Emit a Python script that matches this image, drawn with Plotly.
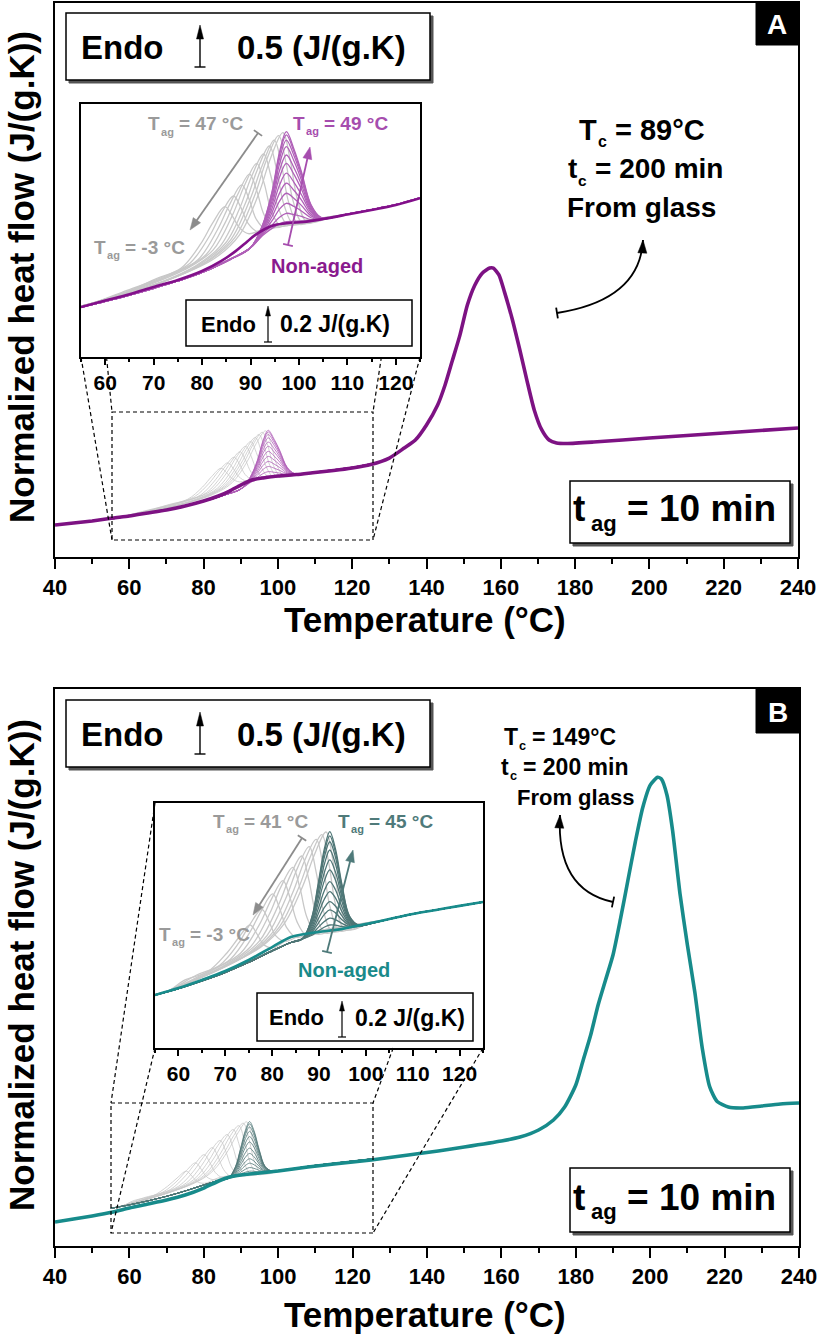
import math
import plotly.graph_objects as go

W, H = 818, 1339
FONT = "Arial, 'Liberation Sans', Helvetica, sans-serif"

# ================= PANEL A DATA =================
A_MAIN_T = [40, 45, 50, 55.6, 60, 65, 70, 75, 80, 84, 87, 90, 93, 96, 100, 105, 110, 115, 120, 125,
            130, 134, 137, 140, 143, 145, 147, 149, 151, 153, 155, 157, 158, 159.5, 161, 163, 165, 167,
            169, 171, 173, 175, 178, 185, 200, 220, 240]
A_MAIN_V = [0.372, 0.395, 0.419, 0.453, 0.477, 0.512, 0.547, 0.593, 0.651, 0.709, 0.767, 0.837, 0.895,
            0.919, 0.942, 0.959, 0.983, 1.006, 1.035, 1.076, 1.151, 1.267, 1.36, 1.535, 1.767, 2.0, 2.29,
            2.58, 2.93, 3.16, 3.30, 3.36, 3.36, 3.28, 3.08, 2.78, 2.43, 2.06, 1.71, 1.48, 1.36, 1.326,
            1.32, 1.337, 1.384, 1.442, 1.50]

A_NA_T = [55, 60, 65, 70, 75, 80, 84, 87, 89, 91, 93, 95, 98, 101, 105, 110, 115, 120, 125]
A_NA_V = [0.442, 0.48, 0.517, 0.56, 0.601, 0.654, 0.713, 0.772, 0.819, 0.866, 0.901, 0.924, 0.936,
          0.942, 0.96, 0.986, 1.013, 1.042, 1.082]

A_GRAY_PRE_T = [55, 58]
A_GRAY_PRE_V = [0.447, 0.47]
A_GRAY_POST_T = [110, 115, 120, 125]
A_GRAY_POST_V = [0.988, 1.015, 1.044, 1.084]
A_GRAY_T = [
    [62.7, 70.7, 75.7, 79.7, 82.2, 84.7, 86.2, 87.7, 89.7, 93.7],
    [64.5, 72.5, 77.5, 81.5, 84.0, 86.5, 88.0, 89.5, 91.5, 95.5],
    [66.2, 74.2, 79.2, 83.2, 85.7, 88.2, 89.7, 91.2, 93.2, 97.2],
    [67.8, 75.8, 80.8, 84.8, 87.3, 89.8, 91.3, 92.8, 94.8, 98.8],
    [69.3, 77.3, 82.3, 86.3, 88.8, 91.3, 92.8, 94.3, 96.3, 100.3],
    [70.7, 78.7, 83.7, 87.7, 90.2, 92.7, 94.2, 95.7, 97.7, 101.7],
    [71.9, 79.9, 84.9, 88.9, 91.4, 93.9, 95.4, 96.9, 98.9, 102.9],
    [72.9, 80.9, 85.9, 89.9, 92.4, 94.9, 96.4, 97.9, 99.9, 103.9],
    [73.8, 81.8, 86.8, 90.8, 93.3, 95.8, 97.3, 98.8, 100.8, 104.8],
    [74.7, 82.7, 87.7, 91.7, 94.2, 96.7, 98.2, 99.7, 101.7, 105.7],
]
A_GRAY_V = [
    [0.51, 0.61, 0.671, 0.813, 0.937, 1.032, 0.98, 0.909, 0.873, 0.913],
    [0.54, 0.625, 0.70, 0.858, 0.994, 1.095, 1.028, 0.934, 0.885, 0.922],
    [0.55, 0.64, 0.721, 0.898, 1.046, 1.16, 1.077, 0.958, 0.899, 0.93],
    [0.565, 0.66, 0.749, 0.94, 1.101, 1.224, 1.125, 0.985, 0.91, 0.937],
    [0.575, 0.675, 0.778, 0.984, 1.16, 1.287, 1.172, 1.008, 0.918, 0.942],
    [0.58, 0.685, 0.799, 1.018, 1.208, 1.342, 1.214, 1.029, 0.925, 0.948],
    [0.59, 0.70, 0.82, 1.049, 1.248, 1.389, 1.249, 1.045, 0.928, 0.952],
    [0.60, 0.71, 0.837, 1.075, 1.273, 1.424, 1.275, 1.056, 0.93, 0.955],
    [0.61, 0.722, 0.852, 1.093, 1.306, 1.45, 1.294, 1.065, 0.935, 0.958],
    [0.62, 0.73, 0.865, 1.108, 1.322, 1.467, 1.307, 1.072, 0.94, 0.96],
]

A_AGED_PRE_T = [55, 60, 65, 70, 75, 80, 86, 90]
A_AGED_PRE_V = [0.44, 0.475, 0.512, 0.552, 0.595, 0.645, 0.725, 0.79]
A_AGED_T = [92.5, 94.5, 96, 97.4, 99, 100.5, 102.5, 104.5]
A_AGED_POST_T = [107, 110, 115, 120, 125]
A_AGED_POST_V = [0.97, 0.988, 1.015, 1.044, 1.084]
A_AGED_V = [
    [0.925, 1.128, 1.354, 1.473, 1.369, 1.239, 1.043, 0.969],
    [0.923, 1.12, 1.339, 1.454, 1.354, 1.228, 1.039, 0.969],
    [0.919, 1.107, 1.315, 1.424, 1.33, 1.212, 1.034, 0.968],
    [0.915, 1.091, 1.284, 1.385, 1.299, 1.19, 1.027, 0.967],
    [0.909, 1.071, 1.245, 1.336, 1.26, 1.163, 1.018, 0.965],
    [0.903, 1.05, 1.206, 1.287, 1.221, 1.136, 1.009, 0.964],
    [0.896, 1.026, 1.159, 1.229, 1.174, 1.104, 0.999, 0.962],
    [0.889, 1.001, 1.112, 1.17, 1.127, 1.072, 0.988, 0.96],
    [0.882, 0.976, 1.065, 1.111, 1.08, 1.04, 0.978, 0.958],
    [0.875, 0.951, 1.018, 1.052, 1.033, 1.007, 0.967, 0.957],
    [0.868, 0.926, 0.97, 0.993, 0.985, 0.975, 0.956, 0.955],
    [0.862, 0.906, 0.931, 0.944, 0.946, 0.948, 0.948, 0.953],
]

# ================= PANEL B DATA =================
B_MAIN_T = [40, 45, 50, 55.6, 60, 65, 70, 75, 80, 84, 87, 90, 95, 100, 108, 115, 125, 135, 143, 150,
            160, 165, 170, 174, 177, 180, 182, 184, 186, 188, 190, 192, 194, 196, 198, 200, 202, 203,
            204.5, 206, 208, 210, 212, 214, 216, 218, 221, 225, 230, 235, 240]
B_MAIN_V = [0.279, 0.314, 0.349, 0.395, 0.442, 0.488, 0.535, 0.593, 0.674, 0.756, 0.802, 0.826, 0.849,
            0.872, 0.919, 0.953, 1.0, 1.058, 1.105, 1.151, 1.221, 1.267, 1.349, 1.465, 1.616, 1.872,
            2.163, 2.453, 2.802, 3.093, 3.384, 3.80, 4.25, 4.70, 5.10, 5.36, 5.45, 5.43, 5.244, 4.837,
            4.10, 3.50, 2.95, 2.30, 1.85, 1.68, 1.616, 1.605, 1.628, 1.651, 1.663]

B_NA_T = [55, 60, 65, 70, 75, 80, 84, 87, 90, 95, 100, 105, 110, 115, 120, 125]
B_NA_V = [0.438, 0.481, 0.531, 0.586, 0.654, 0.734, 0.796, 0.815, 0.827, 0.846, 0.876, 0.907, 0.938,
          0.963, 0.988, 1.012]

B_GRAY_PRE_T = [55, 58]
B_GRAY_PRE_V = [0.44, 0.465]
B_GRAY_POST_T = [105, 110, 115, 120, 125]
B_GRAY_POST_V = [0.907, 0.938, 0.963, 0.988, 1.012]
B_GRAY_T = [
    [61.3, 66.3, 70.3, 72.8, 75.3, 76.8, 78.3, 80.3, 84.3],
    [63.8, 68.8, 72.8, 75.3, 77.8, 79.3, 80.8, 82.8, 86.8],
    [66.1, 71.1, 75.1, 77.6, 80.1, 81.6, 83.1, 85.1, 89.1],
    [68.3, 73.3, 77.3, 79.8, 82.3, 83.8, 85.3, 87.3, 91.3],
    [70.4, 75.4, 79.4, 81.9, 84.4, 85.9, 87.4, 89.4, 93.4],
    [72.3, 77.3, 81.3, 83.8, 86.3, 87.8, 89.3, 91.3, 95.3],
    [73.9, 78.9, 82.9, 85.4, 87.9, 89.4, 90.9, 92.9, 96.9],
    [75.4, 80.4, 84.4, 86.9, 89.4, 90.9, 92.4, 94.4, 98.4],
    [76.6, 81.6, 85.6, 88.1, 90.6, 92.1, 93.6, 95.6, 99.6],
    [77.5, 82.5, 86.5, 89.0, 91.5, 93.0, 94.5, 96.5, 100.5],
]
B_GRAY_V = [
    [0.53, 0.583, 0.696, 0.79, 0.87, 0.813, 0.746, 0.73, 0.797],
    [0.56, 0.622, 0.756, 0.876, 0.967, 0.893, 0.803, 0.77, 0.815],
    [0.58, 0.659, 0.818, 0.953, 1.062, 0.972, 0.854, 0.795, 0.824],
    [0.607, 0.697, 0.874, 1.027, 1.144, 1.039, 0.891, 0.808, 0.832],
    [0.63, 0.736, 0.936, 1.107, 1.226, 1.102, 0.92, 0.815, 0.84],
    [0.655, 0.772, 0.99, 1.17, 1.296, 1.153, 0.943, 0.822, 0.847],
    [0.675, 0.805, 1.034, 1.221, 1.354, 1.195, 0.961, 0.828, 0.858],
    [0.70, 0.835, 1.07, 1.265, 1.399, 1.228, 0.977, 0.833, 0.866],
    [0.718, 0.86, 1.095, 1.288, 1.428, 1.25, 0.987, 0.839, 0.873],
    [0.732, 0.875, 1.108, 1.302, 1.444, 1.262, 0.993, 0.842, 0.879],
]

B_AGED_PRE_T = [55, 60, 65, 70, 75, 80, 84, 86.5]
B_AGED_PRE_V = [0.438, 0.478, 0.525, 0.578, 0.64, 0.71, 0.762, 0.785]
B_AGED_T = [88.5, 89.8, 91.2, 92.3, 93.5, 94.9, 96.5, 98.5]
B_AGED_POST_T = [101, 105, 110, 115, 120, 125]
B_AGED_POST_V = [0.879, 0.907, 0.938, 0.963, 0.988, 1.012]
B_AGED_V = [
    [0.922, 1.121, 1.347, 1.446, 1.341, 1.12, 0.925, 0.868],
    [0.917, 1.108, 1.325, 1.42, 1.32, 1.108, 0.922, 0.868],
    [0.91, 1.09, 1.295, 1.384, 1.29, 1.092, 0.918, 0.867],
    [0.90, 1.064, 1.251, 1.333, 1.248, 1.069, 0.912, 0.867],
    [0.887, 1.034, 1.199, 1.272, 1.198, 1.042, 0.904, 0.866],
    [0.875, 1.003, 1.147, 1.21, 1.148, 1.014, 0.897, 0.866],
    [0.861, 0.967, 1.086, 1.138, 1.088, 0.981, 0.888, 0.865],
    [0.848, 0.936, 1.033, 1.076, 1.038, 0.953, 0.881, 0.864],
    [0.836, 0.905, 0.98, 1.014, 0.987, 0.926, 0.873, 0.864],
    [0.826, 0.879, 0.937, 0.963, 0.945, 0.903, 0.867, 0.863],
    [0.815, 0.854, 0.893, 0.912, 0.903, 0.88, 0.861, 0.863],
    [0.807, 0.833, 0.858, 0.87, 0.869, 0.861, 0.856, 0.862],
]

MAIN_TICKS = [40, 60, 80, 100, 120, 140, 160, 180, 200, 220, 240]
INSET_TICKS = [60, 70, 80, 90, 100, 110, 120]

# ================= STYLE =================
A_MAIN_COLOR = "#7D1283"
A_AGED_COLOR = "#B060B8"
A_NA_COLOR = "#82108A"
GRAY = "#C8C8C8"
B_MAIN_COLOR = "#178B8B"
B_AGED_COLOR = "#4F7676"
B_NA_COLOR = "#188C8C"


def PX(x):
    return x / W


def PY(y):
    return 1 - y / H


fig = go.Figure()


def add(x, y, color, width, xa, ya, smooth=1.0):
    fig.add_trace(go.Scatter(x=x, y=y, mode="lines",
                             line=dict(color=color, width=width, shape="spline", smoothing=smooth),
                             xaxis=xa, yaxis=ya, hoverinfo="skip", showlegend=False))


def join(pre_t, pre_v, t, v, post_t, post_v):
    return list(pre_t) + list(t) + list(post_t), list(pre_v) + list(v) + list(post_v)


def panel_curves(xa, ya, gw, aw, with_na, gray_pre, gray_t, gray_v, gray_post,
                 aged_pre, aged_t, aged_v, aged_post, aged_color, na_t, na_v, na_color):
    for t, v in zip(gray_t, gray_v):
        x, y = join(gray_pre[0], gray_pre[1], t, v, gray_post[0], gray_post[1])
        add(x, y, GRAY, gw, xa, ya)
    for v in aged_v:
        x, y = join(aged_pre[0], aged_pre[1], aged_t, v, aged_post[0], aged_post[1])
        add(x, y, aged_color, aw, xa, ya)
    if with_na:
        add(na_t, na_v, na_color, 2.6, xa, ya)


# ---- panel A: main plot ----
panel_curves("x", "y", 0.8, 0.8, False, (A_GRAY_PRE_T, A_GRAY_PRE_V), A_GRAY_T, A_GRAY_V,
             (A_GRAY_POST_T, A_GRAY_POST_V), (A_AGED_PRE_T, A_AGED_PRE_V), A_AGED_T, A_AGED_V,
             (A_AGED_POST_T, A_AGED_POST_V), A_AGED_COLOR, A_NA_T, A_NA_V, A_NA_COLOR)
add(A_MAIN_T, A_MAIN_V, A_MAIN_COLOR, 3.6, "x", "y", 0.6)
# ---- panel B: main plot ----
panel_curves("x2", "y2", 0.8, 0.8, False, (B_GRAY_PRE_T, B_GRAY_PRE_V), B_GRAY_T, B_GRAY_V,
             (B_GRAY_POST_T, B_GRAY_POST_V), (B_AGED_PRE_T, B_AGED_PRE_V), B_AGED_T, B_AGED_V,
             (B_AGED_POST_T, B_AGED_POST_V), B_AGED_COLOR, B_NA_T, B_NA_V, B_NA_COLOR)
add(B_MAIN_T, B_MAIN_V, B_MAIN_COLOR, 3.6, "x2", "y2", 0.6)
# ---- insets ----
panel_curves("x3", "y3", 1.3, 1.3, True, (A_GRAY_PRE_T, A_GRAY_PRE_V), A_GRAY_T, A_GRAY_V,
             (A_GRAY_POST_T, A_GRAY_POST_V), (A_AGED_PRE_T, A_AGED_PRE_V), A_AGED_T, A_AGED_V,
             (A_AGED_POST_T, A_AGED_POST_V), A_AGED_COLOR, A_NA_T, A_NA_V, A_NA_COLOR)
panel_curves("x4", "y4", 1.3, 1.3, True, (B_GRAY_PRE_T, B_GRAY_PRE_V), B_GRAY_T, B_GRAY_V,
             (B_GRAY_POST_T, B_GRAY_POST_V), (B_AGED_PRE_T, B_AGED_PRE_V), B_AGED_T, B_AGED_V,
             (B_AGED_POST_T, B_AGED_POST_V), B_AGED_COLOR, B_NA_T, B_NA_V, B_NA_COLOR)


# ================= AXES =================
def main_x(x0, x1, anchor):
    return dict(domain=[PX(x0), PX(x1)], range=[40, 240], anchor=anchor, showline=True, mirror=True,
                linecolor="black", linewidth=2, ticks="outside", ticklen=10, tickwidth=2,
                tickcolor="black", tickmode="array", tickvals=MAIN_TICKS,
                ticktext=[str(t) for t in MAIN_TICKS],
                minor=dict(ticks="outside", ticklen=5, tickwidth=2, tickcolor="black", tick0=40, dtick=10),
                tickfont=dict(family=FONT, size=22, color="black", weight="bold"),
                showgrid=False, zeroline=False, fixedrange=True, automargin=False)


def plain_y(y0, y1, rng, anchor, lw):
    return dict(domain=[PY(y1), PY(y0)], range=rng, anchor=anchor, showline=True, mirror=True,
                linecolor="black", linewidth=lw, ticks="", showticklabels=False, showgrid=False,
                zeroline=False, fixedrange=True, automargin=False)


def inset_x(x0, x1, anchor):
    return dict(domain=[PX(x0), PX(x1)], range=[55, 125], anchor=anchor, showline=True, mirror=True,
                linecolor="black", linewidth=1.5, ticks="outside", ticklen=6, tickwidth=1.5,
                tickcolor="black", tickmode="array", tickvals=INSET_TICKS,
                ticktext=[str(t) for t in INSET_TICKS],
                minor=dict(ticks="outside", ticklen=3, tickwidth=1.5, tickcolor="black", tick0=55, dtick=5),
                tickfont=dict(family=FONT, size=21, color="black", weight="bold"),
                showgrid=False, zeroline=False, fixedrange=True, automargin=False)


fig.update_layout(
    template="none",
    width=W, height=H, margin=dict(l=0, r=0, t=0, b=0, pad=0, autoexpand=False),
    paper_bgcolor="white", plot_bgcolor="white", showlegend=False,
    xaxis=main_x(55, 798, "y"), yaxis=plain_y(3, 557, [0, 6.442], "x", 2),
    xaxis2=main_x(55, 799, "y2"), yaxis2=plain_y(689, 1246, [0, 6.477], "x2", 2),
    xaxis3=inset_x(81, 420, "y3"), yaxis3=plain_y(104, 357, [0.148, 1.636], "x3", 1.5),
    xaxis4=inset_x(155, 483, "y4"), yaxis4=plain_y(803, 1048, [0.111, 1.623], "x4", 1.5),
)

# ================= DECORATIONS =================
shapes = []
annotations = []

# Arial-Bold advance widths (per 1000 em) used to lay out subscripted labels
CW = {" ": 278, "=": 584, "°": 400, "C": 722, "T": 611, "t": 333, "a": 556, "g": 611, "c": 556,
      "m": 889, "i": 278, "n": 611, "-": 333, ".": 278}


def tw(s, size):
    return sum(CW.get(ch, 556) for ch in s) * size / 1000


def sline(x0, y0, x1, y1, color="black", width=1.5, dash=None):
    d = dict(type="line", xref="paper", yref="paper", x0=PX(x0), y0=PY(y0), x1=PX(x1), y1=PY(y1),
             line=dict(color=color, width=width))
    if dash:
        d["line"]["dash"] = dash
    shapes.append(d)


def srect(x0, y0, x1, y1, line_color="black", width=1.5, fill="white", dash=None):
    d = dict(type="rect", xref="paper", yref="paper", x0=PX(x0), y0=PY(y0), x1=PX(x1), y1=PY(y1),
             fillcolor=fill, line=dict(color=line_color, width=width))
    if dash:
        d["line"]["dash"] = dash
    shapes.append(d)


def spoly(pts, color):
    path = "M " + " L ".join(f"{PX(x)},{PY(y)}" for x, y in pts) + " Z"
    shapes.append(dict(type="path", xref="paper", yref="paper", path=path, fillcolor=color,
                       line=dict(color=color, width=0.5)))


def head(tipx, tipy, ux, uy, hl, hw, color):
    bx, by = tipx - ux * hl, tipy - uy * hl
    px_, py_ = -uy, ux
    spoly([(tipx, tipy), (bx + px_ * hw / 2, by + py_ * hw / 2), (bx - px_ * hw / 2, by - py_ * hw / 2)], color)


def arrow(x0, y0, x1, y1, color, width, hl=11, hw=8, tw_=10):
    dx, dy = x1 - x0, y1 - y0
    L = math.hypot(dx, dy)
    ux, uy = dx / L, dy / L
    bx, by = x1 - ux * (hl - 1), y1 - uy * (hl - 1)
    sline(x0, y0, bx, by, color, width)
    head(x1, y1, ux, uy, hl, hw, color)
    px_, py_ = -uy, ux
    sline(x0 + px_ * tw_ / 2, y0 + py_ * tw_ / 2, x0 - px_ * tw_ / 2, y0 - py_ * tw_ / 2, color, width)


def qarrow(p0, c, p2, color, width, hl=12, hw=9, tw_=11):
    path = f"M {PX(p0[0])},{PY(p0[1])} Q {PX(c[0])},{PY(c[1])} {PX(p2[0])},{PY(p2[1])}"
    shapes.append(dict(type="path", xref="paper", yref="paper", path=path,
                       line=dict(color=color, width=width)))
    dx, dy = p2[0] - c[0], p2[1] - c[1]
    L = math.hypot(dx, dy)
    head(p2[0], p2[1], dx / L, dy / L, hl, hw, color)
    dx, dy = c[0] - p0[0], c[1] - p0[1]
    L = math.hypot(dx, dy)
    ux, uy = dx / L, dy / L
    px_, py_ = -uy, ux
    sline(p0[0] + px_ * tw_ / 2, p0[1] + py_ * tw_ / 2, p0[0] - px_ * tw_ / 2, p0[1] - py_ * tw_ / 2, color, width)


def txt(x, y, s, size, color="black", xanchor="center", angle=0):
    annotations.append(dict(x=PX(x), y=PY(y), xref="paper", yref="paper", text=f"<b>{s}</b>",
                            showarrow=False, font=dict(family=FONT, size=size, color=color),
                            xanchor=xanchor, yanchor="middle", textangle=angle, borderpad=0))


def subtxt(x_left, yc, main, sub, rest, size, color="black", ratio=0.58, drop=10, gap1=1.0):
    ss = size * ratio
    txt(x_left, yc, main, size, color, "left")
    xs = x_left + tw(main, size) + gap1
    txt(xs, yc + drop, sub, ss, color, "left")
    xr = xs + tw(sub, ss) + tw(" ", size)
    txt(xr, yc, rest, size, color, "left")


DASH = "4px,3px"

# --- zoom boxes and connecting lines ---
srect(112, 412, 373, 540, "black", 1.2, "rgba(0,0,0,0)", DASH)
sline(81, 357, 112, 540, "black", 1.2, DASH)
sline(420, 357, 373, 540, "black", 1.2, DASH)
sline(106.5, 357, 112, 412, "black", 1.2, DASH)
sline(381.4, 357, 373, 412, "black", 1.2, DASH)

srect(111, 1103, 373, 1233, "black", 1.2, "rgba(0,0,0,0)", DASH)
sline(155, 803, 111, 1103, "black", 1.2, DASH)
sline(155, 1048, 111, 1233, "black", 1.2, DASH)
sline(393.2, 1048, 373, 1103, "black", 1.2, DASH)
sline(483, 1048, 373, 1233, "black", 1.2, DASH)

# --- Endo boxes (main) ---
for (y0, y1) in [(13, 80), (700, 767)]:
    srect(69, y0 + 3, 433, y1 + 3, "#555555", 1, "#555555")
    srect(66, y0, 430, y1, "black", 1.5, "white")
    yc = (y0 + y1) / 2
    txt(80, yc + 1, "Endo", 33, xanchor="left")
    txt(236, yc + 1, "0.5 (J/(g.K)", 33, xanchor="left")
    arrow(200, y1 - 13, 200, y0 + 12, "black", 1.4, hl=14, hw=7, tw_=11)

# --- t_ag boxes ---
for (y0, y1, yc) in [(481, 543, 509), (1168, 1232, 1197)]:
    srect(573, y0 + 3, 793, y1 + 3, "#555555", 1, "#555555")
    srect(570, y0, 790, y1, "black", 1.5, "white")
    txt(572, yc, "t", 37, xanchor="left")
    txt(590, yc + 14, "ag", 22, xanchor="left")
    txt(626, yc, "=", 37, xanchor="left")
    txt(658, yc, "10 min", 37, xanchor="left")

# --- panel letters ---
srect(756, 3, 798, 45, "black", 1, "black")
txt(777, 25, "A", 28, "white")
srect(756, 689, 799, 733, "black", 1, "black")
txt(777.5, 712, "B", 28, "white")

# --- inset Endo boxes ---
srect(186, 300, 412, 346, "black", 1.5, "white")
txt(200, 324, "Endo", 22, xanchor="left")
arrow(268, 342, 268, 306, "black", 1.2, hl=10, hw=5, tw_=8)
txt(279, 324, "0.2 J/(g.K)", 23, xanchor="left")

srect(257, 993, 473, 1041, "black", 1.5, "white")
txt(268, 1018, "Endo", 22, xanchor="left")
arrow(342, 1037, 342, 1001, "black", 1.2, hl=10, hw=5, tw_=8)
txt(354, 1018, "0.2 J/(g.K)", 23, xanchor="left")

# --- inset labels & arrows A ---
GT = "#9A9A9A"
subtxt(147, 124, "T", "ag", "= 47 °C", 19, GT, drop=8)
subtxt(292, 123, "T", "ag", "= 49 °C", 19, "#A64DAE", drop=8)
subtxt(93, 247, "T", "ag", "= -3 °C", 19, GT, drop=8)
txt(317, 266, "Non-aged", 20, "#8A1A8E")
arrow(258, 133, 190, 230, "#8C8C8C", 1.8, hl=12, hw=9, tw_=10)
arrow(288, 245, 310, 147, "#A64DAE", 1.8, hl=12, hw=9, tw_=10)

# --- inset labels & arrows B ---
subtxt(212, 821, "T", "ag", "= 41 °C", 19, GT, drop=8)
subtxt(337, 821, "T", "ag", "= 45 °C", 19, "#4F7A7A", drop=8)
subtxt(158, 934, "T", "ag", "= -3 °C", 19, GT, drop=8)
txt(344, 970, "Non-aged", 20, "#1A8A8A")
arrow(302, 838, 253, 915, "#8C8C8C", 1.8, hl=12, hw=9, tw_=10)
arrow(327, 952, 353, 850, "#4F7A7A", 1.8, hl=12, hw=9, tw_=10)

# --- crystallisation annotations ---
subtxt(578, 130, "T", "c", "= 89°C", 29, drop=11, ratio=0.55)
subtxt(567, 169, "t", "c", "= 200 min", 28, drop=11, ratio=0.55)
txt(641, 208, "From glass", 28)
qarrow((557, 313), (640, 300), (643, 240), "black", 1.8, hl=13, hw=9, tw_=11)

subtxt(503, 737, "T", "c", "= 149°C", 23, drop=9, ratio=0.55)
subtxt(500, 767, "t", "c", "= 200 min", 23, drop=9, ratio=0.55)
txt(575, 797, "From glass", 22)
qarrow((613, 902), (556, 890), (560, 815), "black", 1.8, hl=13, hw=9, tw_=11)

# --- axis titles ---
txt(425, 620, "Temperature (°C)", 35)
txt(425, 1314, "Temperature (°C)", 35)
txt(22, 277, "Normalized heat flow (J/(g.K))", 35, angle=-90)
txt(22, 965, "Normalized heat flow (J/(g.K))", 35, angle=-90)

fig.update_layout(shapes=shapes, annotations=annotations)
fig.write_html("out.html")
